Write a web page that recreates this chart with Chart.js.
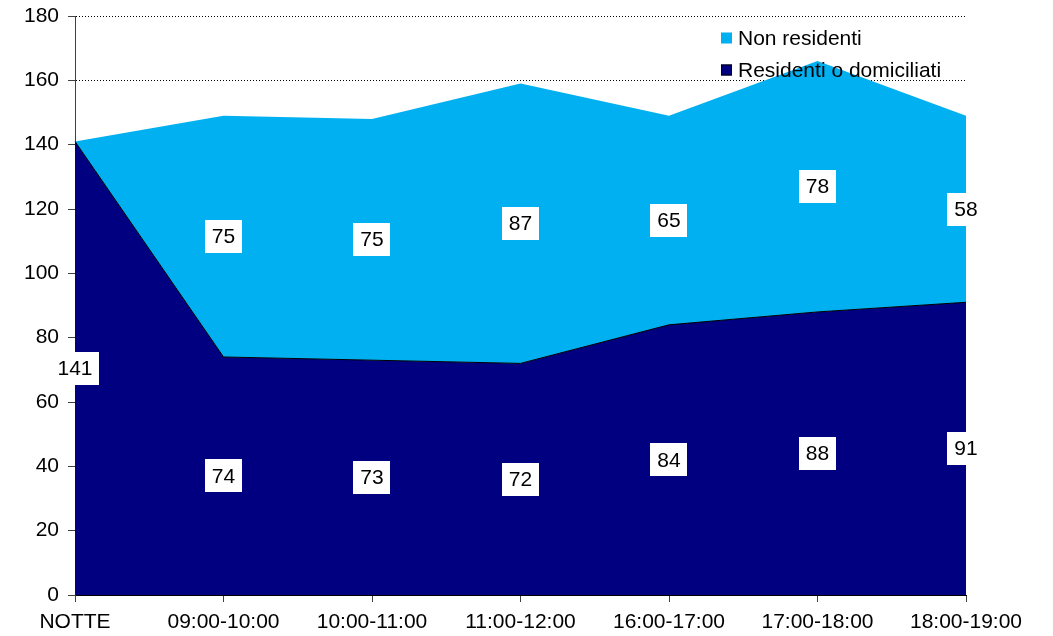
<!DOCTYPE html>
<html>
<head>
<meta charset="utf-8">
<script src="https://cdn.jsdelivr.net/npm/chart.js@4/dist/chart.umd.min.js"></script>
<style>
html,body{margin:0;padding:0;background:#fff;}
canvas{display:block;}
</style>
</head>
<body>
<canvas id="c" width="1053" height="636"></canvas>
<script>
const categories = ["NOTTE","09:00-10:00","10:00-11:00","11:00-12:00","16:00-17:00","17:00-18:00","18:00-19:00"];
const residenti = [141, 74, 73, 72, 84, 88, 91];
const nonResidenti = [0, 75, 75, 87, 65, 78, 58];
const yTicks = [0,20,40,60,80,100,120,140,160,180];

const FONT = "'Liberation Sans', Arial, sans-serif";

const labelsPlugin = {
  id: 'boxLabels',
  afterDatasetsDraw(chart) {
    const ctx = chart.ctx;
    const xs = chart.scales.x, ys = chart.scales.y;
    ctx.save();
    ctx.font = "21px " + FONT;
    ctx.textAlign = 'center';
    ctx.textBaseline = 'middle';
    chart.data.datasets.forEach((ds, i) => {
      ds.data.forEach((v, j) => {
        if (!v) return;
        let base = 0;
        for (let k = 0; k < i; k++) base += chart.data.datasets[k].data[j];
        const x = xs.getPixelForValue(j);
        const y = ys.getPixelForValue(base + v / 2);
        const w = ctx.measureText(String(v)).width + 14;
        const h = 33;
        ctx.fillStyle = '#ffffff';
        ctx.fillRect(Math.round(x - w / 2), Math.round(y - h / 2), Math.round(w), h);
        ctx.fillStyle = '#000000';
        ctx.fillText(String(v), x, y + 1);
      });
    });
    ctx.restore();
  }
};

const legendPlugin = {
  id: 'cornerLegend',
  afterDraw(chart) {
    const ctx = chart.ctx;
    const items = chart.data.datasets.slice().reverse();
    ctx.save();
    ctx.font = "21px " + FONT;
    ctx.textAlign = 'left';
    ctx.textBaseline = 'middle';
    items.forEach((ds, i) => {
      const cy = 38 + i * 32;
      ctx.fillStyle = ds.backgroundColor;
      ctx.fillRect(721, cy - 5.5, 11, 11);
      if (ds.borderWidth) {
        ctx.strokeStyle = '#000';
        ctx.lineWidth = 1;
        ctx.strokeRect(721.5, cy - 5, 10, 10);
      }
      ctx.fillStyle = '#000';
      ctx.fillText(ds.label, 738, cy + 1);
    });
    ctx.restore();
  }
};

new Chart(document.getElementById('c'), {
  type: 'line',
  data: {
    labels: categories,
    datasets: [
      {
        label: 'Residenti o domiciliati',
        data: residenti,
        backgroundColor: '#000080',
        borderColor: '#000000',
        borderWidth: 1,
        fill: 'origin',
        pointRadius: 0,
        tension: 0
      },
      {
        label: 'Non residenti',
        data: nonResidenti,
        backgroundColor: '#00B0F0',
        borderColor: '#00B0F0',
        borderWidth: 0,
        fill: '-1',
        pointRadius: 0,
        tension: 0
      }
    ]
  },
  options: {
    responsive: false,
    animation: false,
    layout: { padding: { top: 16, right: 87, left: 0, bottom: 0 } },
    plugins: {
      legend: { display: false },
      tooltip: { enabled: false }
    },
    scales: {
      x: {
        offset: false,
        grid: {
          drawOnChartArea: false,
          drawTicks: true,
          tickLength: 7,
          tickColor: '#404040',
          color: '#404040'
        },
        border: { display: true, color: '#000000', width: 1 },
        ticks: {
          color: '#000',
          font: { family: FONT, size: 21 },
          padding: 8,
          maxRotation: 0,
          autoSkip: false
        },
        afterFit(scale) { scale.height = 41; scale.paddingLeft = 0; scale.paddingRight = 0; }
      },
      y: {
        stacked: true,
        min: 0,
        max: 180,
        afterBuildTicks(scale) { scale.ticks = yTicks.map(v => ({ value: v })); },
        grid: {
          color: '#000000',
          lineWidth: 1,
          tickBorderDash: [],
          tickColor: '#404040',
          tickLength: 7,
          drawTicks: true
        },
        border: { display: true, color: '#404040', width: 1, dash: [1, 2] },
        ticks: {
          color: '#000',
          font: { family: FONT, size: 21 },
          padding: 9
        },
        afterFit(scale) { scale.width = 75; scale.paddingTop = 0; scale.paddingBottom = 0; }
      }
    }
  },
  plugins: [labelsPlugin, legendPlugin]
});
</script>
</body>
</html>
